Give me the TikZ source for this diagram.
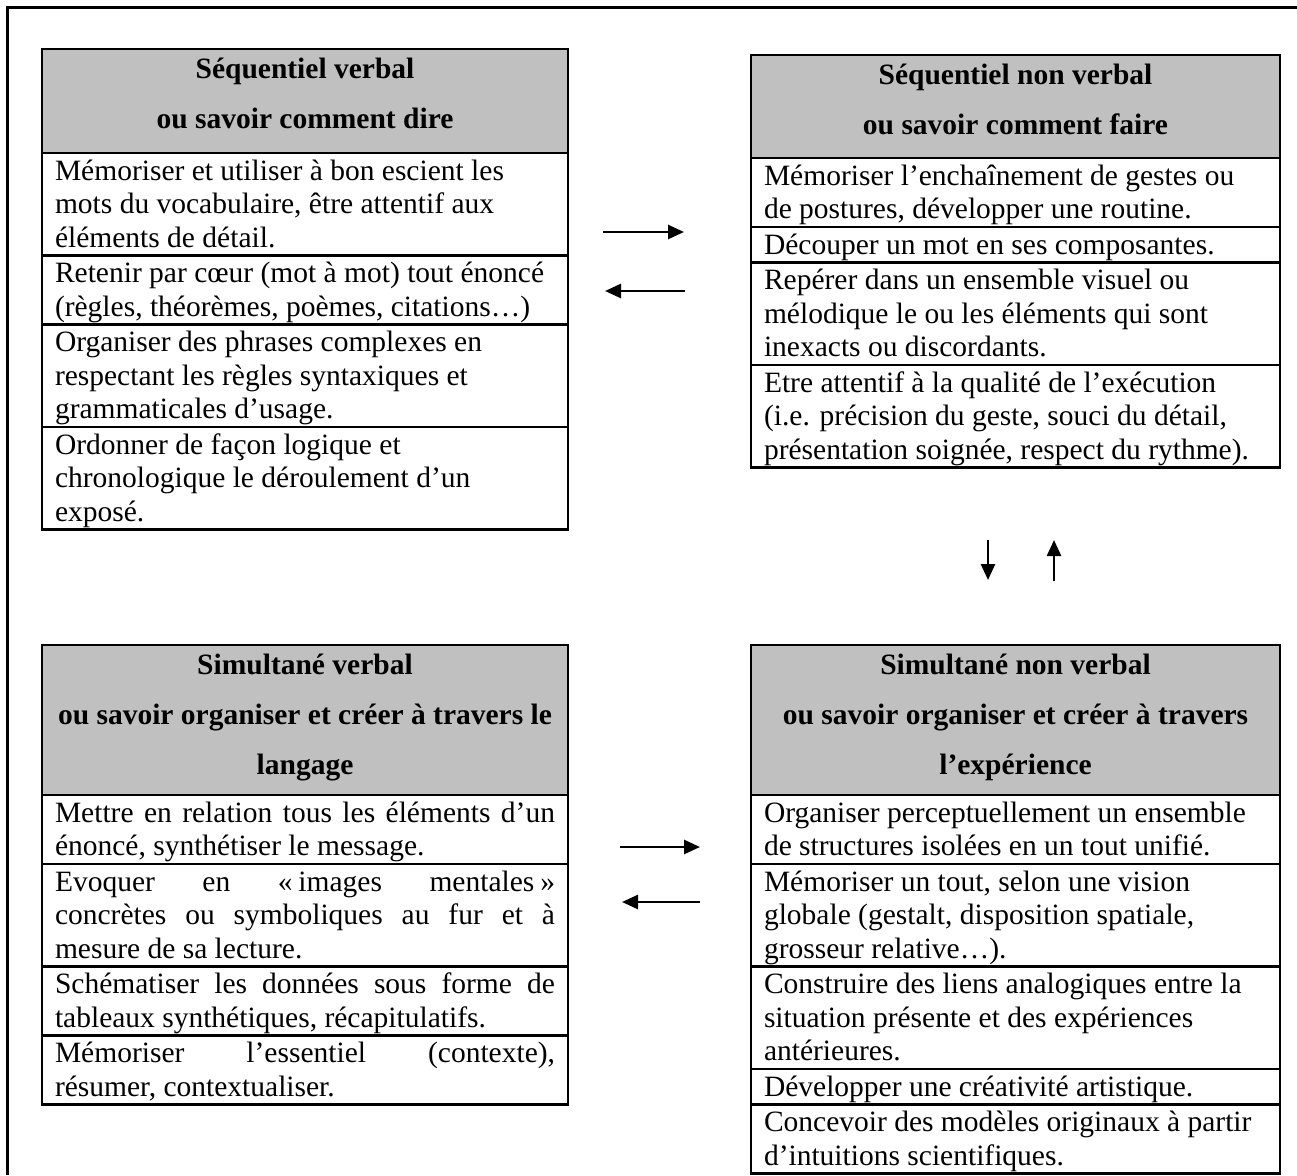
\documentclass[tikz,border=0pt]{standalone}
\usepackage{fontspec}
\setmainfont{Liberation Serif}
\usetikzlibrary{arrows.meta}
\definecolor{hdrgray}{RGB}{192,192,192}
\newcommand\bstrut{\rule{0pt}{27pt}}
\newcommand\hstrut{\rule{0pt}{29pt}}
\newcommand\Lw{500pt}
\newcommand\Rw{503pt}
% body cell: height, width, lines
\newcommand\bodycell[3]{\parbox[t][#1pt][t]{#2}{\raggedright\fontsize{29.5}{33.5}\selectfont\bstrut#3}}
% header cell: height, width, lines
\newcommand\hdrcell[3]{\parbox[t][#1pt][t]{#2}{\centering\bfseries\fontsize{29.5}{50}\selectfont\hstrut#3}}
\newcommand\J[1]{\makebox[\linewidth][s]{#1}}
\tikzset{
  tbl/.style={draw, line width=2.4pt, anchor=north west, inner xsep=13pt, inner ysep=0pt, outer sep=0pt},
  hdr/.style={tbl, fill=hdrgray},
  arr/.style={line width=2.6pt, -{Triangle[length=16pt,width=14pt]}},
  frame/.style={line width=2.4pt}
}
\begin{document}
\begin{tikzpicture}[x=1pt,y=-1pt]
\useasboundingbox (0,0) rectangle (1297,1175);
\coordinate (fr1) at (1297,7.5);
\coordinate (fr2) at (7.5,7.5);
\coordinate (fr3) at (7.5,1175);
\draw[frame] (fr1) -- (fr2) -- (fr3);

% ---------- top left ----------
\node[hdr] (tlh) at (42,49) {\hdrcell{104}{\Lw}{Séquentiel verbal\\ou savoir comment dire}};
\node[tbl] (tl1) at (42,153) {\bodycell{102.5}{\Lw}{\mbox{Mémoriser et utiliser à bon escient les}\\\mbox{mots du vocabulaire, être attentif aux}\\\mbox{éléments de détail.}}};
\node[tbl] (tl2) at (42,255.5) {\bodycell{69}{\Lw}{\mbox{Retenir par cœur (mot à mot) tout énoncé}\\\mbox{(règles, théorèmes, poèmes, citations…)}}};
\node[tbl] (tl3) at (42,324.5) {\bodycell{102.5}{\Lw}{\mbox{Organiser des phrases complexes en}\\\mbox{respectant les règles syntaxiques et}\\\mbox{grammaticales d’usage.}}};
\node[tbl] (tl4) at (42,427) {\bodycell{102.5}{\Lw}{\mbox{Ordonner de façon logique et}\\\mbox{chronologique le déroulement d’un}\\\mbox{exposé.}}};

% ---------- top right ----------
\node[hdr] (trh) at (751,55) {\hdrcell{103}{\Rw}{Séquentiel non verbal\\ou savoir comment faire}};
\node[tbl] (tr1) at (751,158) {\bodycell{69}{\Rw}{\mbox{Mémoriser l’enchaînement de gestes ou}\\\mbox{de postures, développer une routine.}}};
\node[tbl] (tr2) at (751,227) {\bodycell{35.5}{\Rw}{\mbox{Découper un mot en ses composantes.}}};
\node[tbl] (tr3) at (751,262.5) {\bodycell{102.5}{\Rw}{\mbox{Repérer dans un ensemble visuel ou}\\\mbox{mélodique le ou les éléments qui sont}\\\mbox{inexacts ou discordants.}}};
\node[tbl] (tr4) at (751,365) {\bodycell{102.5}{\Rw}{\mbox{Etre attentif à la qualité de l’exécution}\\\mbox{(i.e. précision du geste, souci du détail,}\\\mbox{présentation soignée, respect du rythme).}}};

% ---------- bottom left ----------
\node[hdr] (blh) at (42,645) {\hdrcell{150}{\Lw}{Simultané verbal\\ou savoir organiser et créer à travers le\\langage}};
\node[tbl] (bl1) at (42,795) {\bodycell{69}{\Lw}{\J{Mettre en relation tous les éléments d’un}\\\mbox{énoncé, synthétiser le message.}}};
\node[tbl] (bl2) at (42,864) {\bodycell{102.5}{\Lw}{\J{Evoquer en «\hspace{0.2em}images mentales\hspace{0.2em}»}\\\J{concrètes ou symboliques au fur et à}\\\mbox{mesure de sa lecture.}}};
\node[tbl] (bl3) at (42,966.5) {\bodycell{69}{\Lw}{\J{Schématiser les données sous forme de}\\\mbox{tableaux synthétiques, récapitulatifs.}}};
\node[tbl] (bl4) at (42,1035.5) {\bodycell{69}{\Lw}{\J{Mémoriser l’essentiel (contexte),}\\\mbox{résumer, contextualiser.}}};

% ---------- bottom right ----------
\node[hdr] (brh) at (751,645) {\hdrcell{150}{\Rw}{Simultané non verbal\\ou savoir organiser et créer à travers\\l’expérience}};
\node[tbl] (br1) at (751,795) {\bodycell{69}{\Rw}{\mbox{Organiser perceptuellement un ensemble}\\\mbox{de structures isolées en un tout unifié.}}};
\node[tbl] (br2) at (751,864) {\bodycell{102.5}{\Rw}{\mbox{Mémoriser un tout, selon une vision}\\\mbox{globale (gestalt, disposition spatiale,}\\\mbox{grosseur relative…).}}};
\node[tbl] (br3) at (751,966.5) {\bodycell{102.5}{\Rw}{\mbox{Construire des liens analogiques entre la}\\\mbox{situation présente et des expériences}\\\mbox{antérieures.}}};
\node[tbl] (br4) at (751,1069) {\bodycell{35.5}{\Rw}{\mbox{Développer une créativité artistique.}}};
\node[tbl] (br5) at (751,1104.5) {\bodycell{69}{\Rw}{\mbox{Concevoir des modèles originaux à partir}\\\mbox{d’intuitions scientifiques.}}};

% ---------- arrows ----------
\coordinate (ta1) at (603,232);  \coordinate (ta2) at (684,232);
\coordinate (tb1) at (685,291);  \coordinate (tb2) at (605,291);
\coordinate (va1) at (988,540);  \coordinate (va2) at (988,580);
\coordinate (vb1) at (1054,581); \coordinate (vb2) at (1054,540);
\coordinate (ba1) at (620,847);  \coordinate (ba2) at (700,847);
\coordinate (bb1) at (700,902);  \coordinate (bb2) at (622,902);
\draw[arr] (ta1) -- (ta2);
\draw[arr] (tb1) -- (tb2);
\draw[arr] (va1) -- (va2);
\draw[arr] (vb1) -- (vb2);
\draw[arr] (ba1) -- (ba2);
\draw[arr] (bb1) -- (bb2);
\end{tikzpicture}
\end{document}
